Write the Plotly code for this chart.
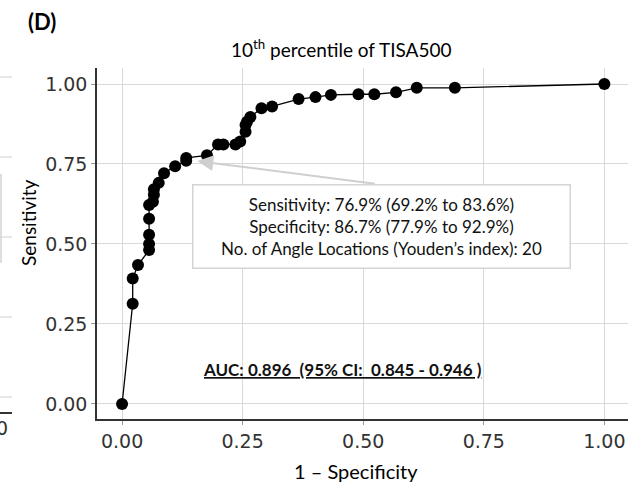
import plotly.graph_objects as go

# ROC curve points
fpr = [0.0, 0.022, 0.022, 0.033, 0.056, 0.056, 0.056, 0.056, 0.056, 0.064, 0.066,
       0.066, 0.076, 0.087, 0.110, 0.133, 0.133, 0.176, 0.199, 0.210, 0.235, 0.245,
       0.256, 0.256, 0.259, 0.266, 0.289, 0.311, 0.366, 0.401, 0.433, 0.490, 0.523,
       0.568, 0.611, 0.690, 1.0]
tpr = [0.0, 0.313, 0.392, 0.434, 0.481, 0.500, 0.529, 0.579, 0.622, 0.632, 0.654,
       0.671, 0.691, 0.721, 0.743, 0.760, 0.769, 0.777, 0.811, 0.811, 0.811, 0.820,
       0.851, 0.872, 0.882, 0.897, 0.924, 0.930, 0.953, 0.959, 0.966, 0.968, 0.968,
       0.974, 0.988, 0.988, 1.0]
ticks = [0.0, 0.25, 0.5, 0.75, 1.0]
tick_text = ["0.00", "0.25", "0.50", "0.75", "1.00"]

best_fpr, best_tpr = 0.133, 0.769
box_lines = ["Sensitivity: 76.9% (69.2% to 83.6%)",
             "Specificity: 86.7% (77.9% to 92.9%)",
             "No. of Angle Locations (Youden\u2019s index): 20"]
auc_text = "AUC: 0.896  (95% CI:  0.845 - 0.946 )"

W, H = 630, 482
L, R, T, B = 97, 2, 68, 63
pw, ph = W - L - R, H - T - B


def px(x):
    return (x - L) / pw


def py(y):
    return (H - B - y) / ph


calibri = "Lato, Carlito, Calibri, sans-serif"
ticks_font = dict(family="DejaVu Sans", size=19, color="#333333")

fig = go.Figure()
fig.add_trace(go.Scatter(
    x=fpr, y=tpr, mode="lines+markers",
    line=dict(color="black", width=1.3),
    marker=dict(color="black", size=12),
    showlegend=False, hoverinfo="skip"))

# grey arrow pointing at the Youden point
fig.add_annotation(x=best_fpr + 0.023, y=best_tpr - 0.01, ax=0.527, ay=0.688,
                   xref="x", yref="y", axref="x", ayref="y", text="",
                   showarrow=True, arrowhead=2, arrowsize=1.6, arrowwidth=2,
                   arrowcolor="#cfcfcf")
fig.add_annotation(x=0.5375, y=0.556, xref="x", yref="y",
                   text="<br>".join(box_lines), showarrow=False,
                   font=dict(family=calibri, size=17, color="#111111"),
                   align="center", bgcolor="white", bordercolor="#d4d4d4",
                   borderwidth=1.5, borderpad=3, width=370, height=76)
fig.add_annotation(x=0.457, y=0.109, xref="x", yref="y",
                   text="<u><b>" + auc_text + "</b></u>", showarrow=False,
                   font=dict(family=calibri, size=17, color="#111111"))


def label(x, y, text, font, angle=0):
    fig.add_annotation(x=px(x), y=py(y), xref="paper", yref="paper", text=text,
                       xanchor="center", yanchor="middle", textangle=angle,
                       showarrow=False, font=font)


# titles placed like the Word text boxes
label(42, 21, "<b>(D)</b>", dict(family=calibri, size=22, color="black"))
label(341, 48, "10<sup>th</sup> percentile of TISA500",
      dict(family=calibri, size=19, color="black"))
label(28, 223, "Sensitivity", dict(family=calibri, size=19, color="black"), -90)
label(356, 471, "1 \u2013 Specificity", dict(family=calibri, size=20, color="black"))

# bits of the neighbouring panel cut off at the left edge
for yy in [77, 157, 237, 317, 397]:
    fig.add_shape(type="line", xref="paper", yref="paper", x0=px(0), x1=px(12),
                  y0=py(yy), y1=py(yy), line=dict(color="#d0d0d0", width=1))
fig.add_shape(type="line", xref="paper", yref="paper", x0=px(0), x1=px(12),
              y0=py(413), y1=py(413), line=dict(color="#333333", width=2))
fig.add_shape(type="rect", xref="paper", yref="paper", x0=px(-10), x1=px(1),
              y0=py(262), y1=py(175), line=dict(color="#d4d4d4", width=1.5))
label(2, 428, "0", ticks_font)

axis = dict(tickvals=ticks, ticktext=tick_text, showgrid=True, gridcolor="#d9d9d9",
            gridwidth=1, zeroline=False, showline=True, linecolor="#333333",
            linewidth=1.5, ticks="outside", ticklen=4, tickcolor="#999999",
            tickfont=ticks_font, automargin=False)
fig.update_xaxes(range=[-0.052, 1.049], **axis)
fig.update_yaxes(range=[-0.047, 1.050], **axis)
fig.update_layout(width=W, height=H, margin=dict(l=L, r=R, t=T, b=B),
                  plot_bgcolor="white", paper_bgcolor="white")

# drop the browser's default page margin so the figure sits at the corner
fig.write_html("out.html", config={"displayModeBar": False},
               post_script="document.body.style.margin = '0';")
